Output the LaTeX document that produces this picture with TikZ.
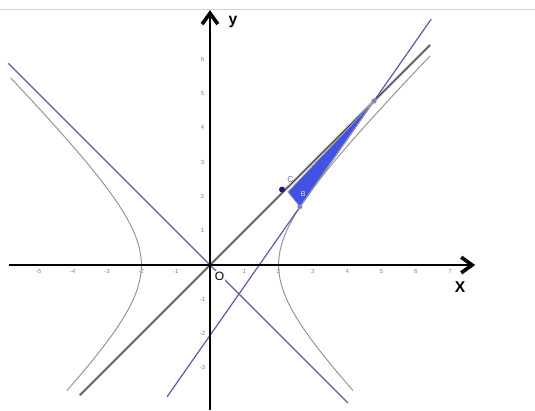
\documentclass[tikz,border=0pt]{standalone}
\usepackage{fontspec}
\setmainfont{Liberation Sans}
\usetikzlibrary{arrows.meta,positioning,calc}

\definecolor{slate}{RGB}{92,92,168}
\definecolor{fillblue}{RGB}{66,82,226}
\definecolor{navy}{RGB}{28,30,120}
\definecolor{dotblue}{RGB}{112,112,205}

\begin{document}
\begin{tikzpicture}[
    x=1cm,y=1cm,
    axis/.style={line width=2.4pt,-{Straight Barb[length=9pt,width=13pt,line width=3pt]}},
    ticklabel/.style={font=\fontsize{5}{6}\selectfont,text=gray,inner sep=0pt},
    hyp/.style={gray!85,line width=0.8pt},
    asym/.style={slate,line width=1pt},
    dot/.style={circle,inner sep=0pt,minimum size=5pt},
]

\useasboundingbox (-6.122,-4.227) rectangle (9.475,7.726);

%----------------------------------
% Window border
%----------------------------------

\coordinate (wL) at (-6.122,7.46);
\coordinate (wR) at (9.475,7.46);
\draw[gray!35,line width=0.6pt] (wL) -- (wR);

%----------------------------------
% Tick labels
%----------------------------------

\foreach \n in {-5,-4,-3,-2,-1,1,2,3,4,5,6,7}
    \node[ticklabel] (xt\n) at (\n,-0.2) {\n};

\foreach \n in {-3,-2,-1,1,2,3,4,5,6,7}
    \node[ticklabel] (yt\n) at (-0.22,\n) {\n};

%----------------------------------
% Hyperbola x^2 - y^2 = 4
%----------------------------------

\draw[hyp] plot[domain=-1.365:1.834,samples=60,smooth,variable=\t]
    ({2*cosh(\t)},{2*sinh(\t)});
\draw[hyp] plot[domain=-1.365:1.73,samples=60,smooth,variable=\t]
    ({-2*cosh(\t)},{2*sinh(\t)});

%----------------------------------
% Lines
%----------------------------------

\coordinate (nwEnd) at (-5.88,5.88);
\coordinate (seEnd) at (4.02,-4.02);
\draw[asym] (nwEnd) -- (seEnd);

\coordinate (swEnd) at (-3.8,-3.8);
\coordinate (neEnd) at (6.42,6.42);
\draw[gray!60,line width=2.2pt] (swEnd) -- (neEnd);
\draw[black!85,line width=0.6pt,yshift=0.6pt] (swEnd) -- (neEnd);

\coordinate (tLow) at (-1.25,-3.84);
\coordinate (tHigh) at (6.45,7.17);
\draw[asym] (tLow) -- (tHigh);

%----------------------------------
% Axes
%----------------------------------

\coordinate (xStart) at (-5.86,0);
\coordinate (xTip) at (7.73,0);
\coordinate (yStart) at (0,-4.227);
\coordinate (yTip) at (0,7.43);

\draw[axis] (xStart) -- (xTip);
\draw[axis] (yStart) -- (yTip);

\node[font=\bfseries\fontsize{13}{14}\selectfont] (yLab) at (0.67,7.08) {y};
\node[font=\bfseries\fontsize{13}{14}\selectfont] (xLab) at (7.29,-0.64) {X};
\node[fill=white,inner sep=0.5pt,font=\fontsize{10}{11}\selectfont] (oLab) at (0.28,-0.32) {O};

%----------------------------------
% Shaded triangle and points
%----------------------------------

\coordinate (T) at (2.27,2.13);
\node[dot,fill=dotblue,draw=gray!60,minimum size=4pt] (B) at (2.62,1.70) {};
\node[dot,fill=dotblue,draw=gray!60,minimum size=4pt] (Q) at (4.78,4.78) {};

\filldraw[fill=fillblue,draw=gray!70,line width=0.6pt] (T) -- (B.center) -- (Q.center) -- cycle;

\node[dot,fill=navy] (C) at (2.1,2.2) {};

\node[font=\fontsize{7}{8}\selectfont,text=dotblue,above right=0pt and -1pt of C] (cLab) {C};
\node[font=\fontsize{6}{7}\selectfont,text=blue!15] (bLab) at (2.72,2.06) {B};

\end{tikzpicture}
\end{document}
